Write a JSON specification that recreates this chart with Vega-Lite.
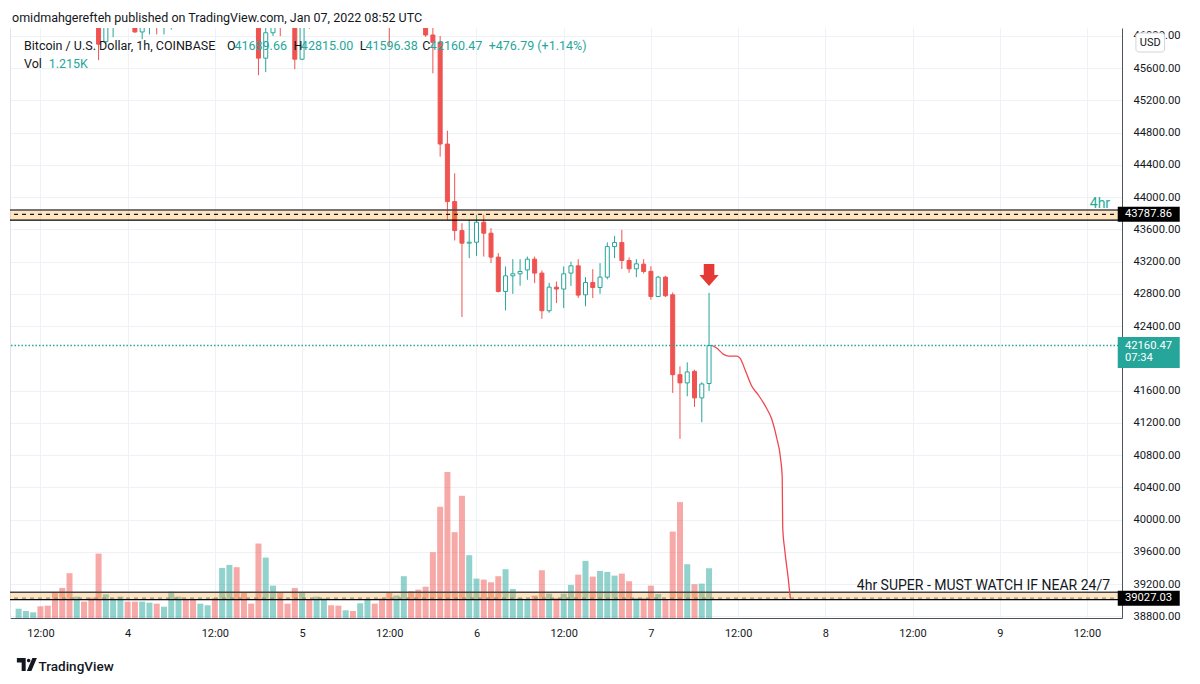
{
  "$schema": "https://vega.github.io/schema/vega-lite/v6.json",
  "width": 1112,
  "height": 590,
  "autosize": "none",
  "padding": {"left": 10, "top": 28, "right": 78, "bottom": 66},
  "background": "#ffffff",
  "config": {"font": "Roboto", "view": {"stroke": null}},
  "title": {
    "text": "omidmahgerefteh published on TradingView.com, Jan 07, 2022 08:52 UTC",
    "anchor": "start",
    "frame": "group",
    "offset": 4,
    "dx": 2,
    "fontSize": 12.5,
    "fontWeight": "normal",
    "color": "#131722"
  },
  "datasets": {
    "bars": [
      {"t": "2022-01-03T09:00:00Z", "o": 46650, "h": 46800, "l": 46550, "c": 46720, "v": 227},
      {"t": "2022-01-03T10:00:00Z", "o": 46720, "h": 46850, "l": 46650, "c": 46780, "v": 171},
      {"t": "2022-01-03T11:00:00Z", "o": 46780, "h": 46900, "l": 46700, "c": 46820, "v": 139},
      {"t": "2022-01-03T12:00:00Z", "o": 46820, "h": 46880, "l": 46600, "c": 46650, "v": 286},
      {"t": "2022-01-03T13:00:00Z", "o": 46650, "h": 46700, "l": 46450, "c": 46500, "v": 301},
      {"t": "2022-01-03T14:00:00Z", "o": 46500, "h": 46560, "l": 46200, "c": 46300, "v": 628},
      {"t": "2022-01-03T15:00:00Z", "o": 46300, "h": 46400, "l": 46150, "c": 46250, "v": 734},
      {"t": "2022-01-03T16:00:00Z", "o": 46250, "h": 46300, "l": 46120, "c": 46180, "v": 1093},
      {"t": "2022-01-03T17:00:00Z", "o": 46180, "h": 46400, "l": 46150, "c": 46350, "v": 521},
      {"t": "2022-01-03T18:00:00Z", "o": 46350, "h": 46420, "l": 46200, "c": 46250, "v": 399},
      {"t": "2022-01-03T19:00:00Z", "o": 46250, "h": 46300, "l": 46130, "c": 46200, "v": 496},
      {"t": "2022-01-03T20:00:00Z", "o": 46200, "h": 46250, "l": 45700, "c": 45898, "v": 1572},
      {"t": "2022-01-03T21:00:00Z", "o": 45930, "h": 46200, "l": 45900, "c": 46120, "v": 579},
      {"t": "2022-01-03T22:00:00Z", "o": 46120, "h": 46350, "l": 45985, "c": 46300, "v": 472},
      {"t": "2022-01-03T23:00:00Z", "o": 46300, "h": 46450, "l": 46150, "c": 46400, "v": 521},
      {"t": "2022-01-04T00:00:00Z", "o": 46400, "h": 46500, "l": 46150, "c": 46250, "v": 399},
      {"t": "2022-01-04T01:00:00Z", "o": 46250, "h": 46300, "l": 46040, "c": 46050, "v": 399},
      {"t": "2022-01-04T02:00:00Z", "o": 46050, "h": 46200, "l": 45960, "c": 46110, "v": 399},
      {"t": "2022-01-04T03:00:00Z", "o": 46110, "h": 46300, "l": 46020, "c": 46250, "v": 374},
      {"t": "2022-01-04T04:00:00Z", "o": 46250, "h": 46300, "l": 46020, "c": 46120, "v": 350},
      {"t": "2022-01-04T05:00:00Z", "o": 46120, "h": 46350, "l": 46020, "c": 46300, "v": 276},
      {"t": "2022-01-04T06:00:00Z", "o": 46300, "h": 46500, "l": 46080, "c": 46450, "v": 643},
      {"t": "2022-01-04T07:00:00Z", "o": 46450, "h": 46700, "l": 46400, "c": 46650, "v": 521},
      {"t": "2022-01-04T08:00:00Z", "o": 46650, "h": 46700, "l": 46450, "c": 46500, "v": 472},
      {"t": "2022-01-04T09:00:00Z", "o": 46500, "h": 46550, "l": 46300, "c": 46350, "v": 465},
      {"t": "2022-01-04T10:00:00Z", "o": 46350, "h": 46550, "l": 46300, "c": 46500, "v": 350},
      {"t": "2022-01-04T11:00:00Z", "o": 46500, "h": 46700, "l": 46450, "c": 46650, "v": 311},
      {"t": "2022-01-04T12:00:00Z", "o": 46650, "h": 46750, "l": 46450, "c": 46500, "v": 489},
      {"t": "2022-01-04T13:00:00Z", "o": 46500, "h": 47200, "l": 46450, "c": 47050, "v": 1223},
      {"t": "2022-01-04T14:00:00Z", "o": 47050, "h": 47500, "l": 46950, "c": 47350, "v": 1296},
      {"t": "2022-01-04T15:00:00Z", "o": 47350, "h": 47450, "l": 46800, "c": 46900, "v": 1240},
      {"t": "2022-01-04T16:00:00Z", "o": 46900, "h": 47000, "l": 46600, "c": 46700, "v": 628},
      {"t": "2022-01-04T17:00:00Z", "o": 46700, "h": 46750, "l": 46450, "c": 46550, "v": 350},
      {"t": "2022-01-04T18:00:00Z", "o": 46550, "h": 46600, "l": 45514, "c": 45725, "v": 1817},
      {"t": "2022-01-04T19:00:00Z", "o": 45725, "h": 46200, "l": 45551, "c": 46040, "v": 1474},
      {"t": "2022-01-04T20:00:00Z", "o": 46040, "h": 46400, "l": 46000, "c": 46300, "v": 790},
      {"t": "2022-01-04T21:00:00Z", "o": 46300, "h": 46350, "l": 45998, "c": 46150, "v": 628},
      {"t": "2022-01-04T22:00:00Z", "o": 46150, "h": 46200, "l": 46110, "c": 46130, "v": 350},
      {"t": "2022-01-04T23:00:00Z", "o": 46130, "h": 46200, "l": 45588, "c": 45712, "v": 734},
      {"t": "2022-01-05T00:00:00Z", "o": 45712, "h": 46300, "l": 45700, "c": 46200, "v": 628},
      {"t": "2022-01-05T01:00:00Z", "o": 46200, "h": 46300, "l": 46090, "c": 46150, "v": 440},
      {"t": "2022-01-05T02:00:00Z", "o": 46150, "h": 46350, "l": 46100, "c": 46300, "v": 521},
      {"t": "2022-01-05T03:00:00Z", "o": 46300, "h": 46500, "l": 46100, "c": 46450, "v": 482},
      {"t": "2022-01-05T04:00:00Z", "o": 46450, "h": 46500, "l": 46300, "c": 46350, "v": 311},
      {"t": "2022-01-05T05:00:00Z", "o": 46350, "h": 46400, "l": 46250, "c": 46300, "v": 301},
      {"t": "2022-01-05T06:00:00Z", "o": 46300, "h": 46450, "l": 46280, "c": 46400, "v": 188},
      {"t": "2022-01-05T07:00:00Z", "o": 46400, "h": 46450, "l": 46300, "c": 46350, "v": 171},
      {"t": "2022-01-05T08:00:00Z", "o": 46350, "h": 46550, "l": 46320, "c": 46500, "v": 359},
      {"t": "2022-01-05T09:00:00Z", "o": 46500, "h": 46700, "l": 46450, "c": 46650, "v": 457},
      {"t": "2022-01-05T10:00:00Z", "o": 46650, "h": 46700, "l": 46450, "c": 46500, "v": 350},
      {"t": "2022-01-05T11:00:00Z", "o": 46500, "h": 46550, "l": 46250, "c": 46300, "v": 482},
      {"t": "2022-01-05T12:00:00Z", "o": 46300, "h": 46350, "l": 45880, "c": 46150, "v": 619},
      {"t": "2022-01-05T13:00:00Z", "o": 46150, "h": 46450, "l": 46120, "c": 46400, "v": 550},
      {"t": "2022-01-05T14:00:00Z", "o": 46400, "h": 46900, "l": 46350, "c": 46800, "v": 1020},
      {"t": "2022-01-05T15:00:00Z", "o": 46800, "h": 46850, "l": 46500, "c": 46550, "v": 653},
      {"t": "2022-01-05T16:00:00Z", "o": 46550, "h": 46600, "l": 46250, "c": 46300, "v": 692},
      {"t": "2022-01-05T17:00:00Z", "o": 46300, "h": 46350, "l": 45990, "c": 46012, "v": 765},
      {"t": "2022-01-05T18:00:00Z", "o": 46012, "h": 46150, "l": 45537, "c": 45921, "v": 1606},
      {"t": "2022-01-05T19:00:00Z", "o": 45921, "h": 46000, "l": 44503, "c": 44660, "v": 2714},
      {"t": "2022-01-05T20:00:00Z", "o": 44660, "h": 44825, "l": 43719, "c": 43946, "v": 3562},
      {"t": "2022-01-05T21:00:00Z", "o": 43946, "h": 44297, "l": 43463, "c": 43586, "v": 2095},
      {"t": "2022-01-05T22:00:00Z", "o": 43586, "h": 43678, "l": 42514, "c": 43430, "v": 2983},
      {"t": "2022-01-05T23:00:00Z", "o": 43430, "h": 43719, "l": 43245, "c": 43442, "v": 1533},
      {"t": "2022-01-06T00:00:00Z", "o": 43442, "h": 43781, "l": 43273, "c": 43690, "v": 961},
      {"t": "2022-01-06T01:00:00Z", "o": 43690, "h": 43781, "l": 43264, "c": 43554, "v": 936},
      {"t": "2022-01-06T02:00:00Z", "o": 43554, "h": 43616, "l": 43183, "c": 43257, "v": 873},
      {"t": "2022-01-06T03:00:00Z", "o": 43257, "h": 43307, "l": 42819, "c": 42831, "v": 1020},
      {"t": "2022-01-06T04:00:00Z", "o": 42831, "h": 43141, "l": 42596, "c": 43025, "v": 1191},
      {"t": "2022-01-06T05:00:00Z", "o": 43025, "h": 43232, "l": 42802, "c": 43050, "v": 709},
      {"t": "2022-01-06T06:00:00Z", "o": 43050, "h": 43232, "l": 42902, "c": 43079, "v": 489},
      {"t": "2022-01-06T07:00:00Z", "o": 43098, "h": 43264, "l": 42976, "c": 43232, "v": 457},
      {"t": "2022-01-06T08:00:00Z", "o": 43232, "h": 43264, "l": 42935, "c": 43059, "v": 545},
      {"t": "2022-01-06T09:00:00Z", "o": 43059, "h": 43091, "l": 42493, "c": 42592, "v": 1166},
      {"t": "2022-01-06T10:00:00Z", "o": 42592, "h": 42939, "l": 42567, "c": 42885, "v": 594},
      {"t": "2022-01-06T11:00:00Z", "o": 42885, "h": 42955, "l": 42687, "c": 42861, "v": 489},
      {"t": "2022-01-06T12:00:00Z", "o": 42861, "h": 43141, "l": 42625, "c": 43050, "v": 594},
      {"t": "2022-01-06T13:00:00Z", "o": 43059, "h": 43202, "l": 42900, "c": 43149, "v": 807},
      {"t": "2022-01-06T14:00:00Z", "o": 43149, "h": 43232, "l": 42749, "c": 42786, "v": 1059},
      {"t": "2022-01-06T15:00:00Z", "o": 42790, "h": 43009, "l": 42648, "c": 42942, "v": 1394},
      {"t": "2022-01-06T16:00:00Z", "o": 42942, "h": 43108, "l": 42749, "c": 42880, "v": 1010},
      {"t": "2022-01-06T17:00:00Z", "o": 42880, "h": 43183, "l": 42802, "c": 43009, "v": 1149},
      {"t": "2022-01-06T18:00:00Z", "o": 43009, "h": 43440, "l": 42982, "c": 43388, "v": 1125},
      {"t": "2022-01-06T19:00:00Z", "o": 43388, "h": 43521, "l": 43245, "c": 43438, "v": 1034},
      {"t": "2022-01-06T20:00:00Z", "o": 43438, "h": 43595, "l": 43110, "c": 43215, "v": 1083},
      {"t": "2022-01-06T21:00:00Z", "o": 43215, "h": 43254, "l": 43063, "c": 43112, "v": 897},
      {"t": "2022-01-06T22:00:00Z", "o": 43112, "h": 43232, "l": 43009, "c": 43174, "v": 489},
      {"t": "2022-01-06T23:00:00Z", "o": 43170, "h": 43232, "l": 43054, "c": 43079, "v": 489},
      {"t": "2022-01-07T00:00:00Z", "o": 43081, "h": 43143, "l": 42728, "c": 42769, "v": 790},
      {"t": "2022-01-07T01:00:00Z", "o": 42769, "h": 43025, "l": 42762, "c": 43009, "v": 587},
      {"t": "2022-01-07T02:00:00Z", "o": 43009, "h": 43025, "l": 42762, "c": 42778, "v": 447},
      {"t": "2022-01-07T03:00:00Z", "o": 42790, "h": 42819, "l": 41573, "c": 41799, "v": 2110},
      {"t": "2022-01-07T04:00:00Z", "o": 41799, "h": 41902, "l": 41003, "c": 41697, "v": 2829},
      {"t": "2022-01-07T05:00:00Z", "o": 41697, "h": 41952, "l": 41531, "c": 41833, "v": 1313},
      {"t": "2022-01-07T06:00:00Z", "o": 41840, "h": 41860, "l": 41399, "c": 41511, "v": 824},
      {"t": "2022-01-07T07:00:00Z", "o": 41511, "h": 41704, "l": 41209, "c": 41683.68, "v": 839},
      {"t": "2022-01-07T08:00:00Z", "o": 41689.66, "h": 42815.00, "l": 41596.38, "c": 42160.47, "v": 1215}
    ],
    "zones": [
      {"label": "4hr", "level": 43787.86, "top": 43841, "bottom": 43717},
      {"label": "4hr SUPER - MUST WATCH IF NEAR 24/7", "level": 39027.03, "top": 39100, "bottom": 39008}
    ],
    "path": [
      {"t": "2022-01-07T08:25:00Z", "p": 42160.47},
      {"t": "2022-01-07T09:05:00Z", "p": 42126},
      {"t": "2022-01-07T10:00:00Z", "p": 42051},
      {"t": "2022-01-07T10:41:00Z", "p": 42030},
      {"t": "2022-01-07T11:49:00Z", "p": 42030},
      {"t": "2022-01-07T12:17:00Z", "p": 42002},
      {"t": "2022-01-07T12:58:00Z", "p": 41857},
      {"t": "2022-01-07T13:52:00Z", "p": 41658},
      {"t": "2022-01-07T14:47:00Z", "p": 41547},
      {"t": "2022-01-07T15:55:00Z", "p": 41382},
      {"t": "2022-01-07T16:35:00Z", "p": 41258},
      {"t": "2022-01-07T17:16:00Z", "p": 41030},
      {"t": "2022-01-07T17:52:00Z", "p": 40741},
      {"t": "2022-01-07T18:04:00Z", "p": 40533},
      {"t": "2022-01-07T18:08:00Z", "p": 39913},
      {"t": "2022-01-07T18:25:00Z", "p": 39624},
      {"t": "2022-01-07T18:52:00Z", "p": 39293},
      {"t": "2022-01-07T19:11:00Z", "p": 39027.03}
    ]
  },
  "layer": [
    {
      "data": {"name": "bars"},
      "mark": {"type": "bar", "width": 6, "opacity": 0.5},
      "encoding": {
        "x": {
          "field": "t",
          "type": "temporal",
          "scale": {
            "domain": [
              {"year": 2022, "month": 1, "date": 3, "hours": 8, "minutes": 30, "utc": true},
              {"year": 2022, "month": 1, "date": 9, "hours": 16, "minutes": 8, "utc": true}
            ]
          },
          "axis": {
            "values": [
              {"year": 2022, "month": 1, "date": 3, "hours": 12, "utc": true},
              {"year": 2022, "month": 1, "date": 4, "hours": 0, "utc": true},
              {"year": 2022, "month": 1, "date": 4, "hours": 12, "utc": true},
              {"year": 2022, "month": 1, "date": 5, "hours": 0, "utc": true},
              {"year": 2022, "month": 1, "date": 5, "hours": 12, "utc": true},
              {"year": 2022, "month": 1, "date": 6, "hours": 0, "utc": true},
              {"year": 2022, "month": 1, "date": 6, "hours": 12, "utc": true},
              {"year": 2022, "month": 1, "date": 7, "hours": 0, "utc": true},
              {"year": 2022, "month": 1, "date": 7, "hours": 12, "utc": true},
              {"year": 2022, "month": 1, "date": 8, "hours": 0, "utc": true},
              {"year": 2022, "month": 1, "date": 8, "hours": 12, "utc": true},
              {"year": 2022, "month": 1, "date": 9, "hours": 0, "utc": true},
              {"year": 2022, "month": 1, "date": 9, "hours": 12, "utc": true}
            ],
            "tickCount": 40,
            "labelExpr": "utchours(datum.value) == 0 ? utcFormat(datum.value, '%-d') : utcFormat(datum.value, '%H:%M')",
            "grid": true,
            "gridColor": "#eef1f6",
            "ticks": false,
            "domainColor": "#50535e",
            "labelColor": "#131722",
            "labelFontSize": 11,
            "labelPadding": 9,
            "labelFlush": false,
            "labelOverlap": false,
            "title": "TradingView",
            "titleX": 28,
            "titleY": 52,
            "titleAlign": "left",
            "titleAnchor": "start",
            "titleBaseline": "alphabetic",
            "titleFontSize": 13.5,
            "titleFontWeight": 500,
            "titleColor": "#131722"
          }
        },
        "y": {
          "field": "v",
          "type": "quantitative",
          "scale": {"domain": [0, 14400], "nice": false},
          "axis": {"orient": "left", "labels": false, "ticks": false, "grid": false, "domainColor": "#e0e3eb", "title": null}
        },
        "color": {"condition": {"test": "datum.c >= datum.o", "value": "#26a69a"}, "value": "#ef5350"}
      }
    },
    {
      "layer": [
        {
          "data": {"name": "bars"},
          "mark": {"type": "rule", "strokeWidth": 1, "clip": true},
          "encoding": {
            "x": {"field": "t", "type": "temporal"},
            "y": {
              "field": "l",
              "type": "quantitative",
              "scale": {"domain": [38781, 46099], "nice": false, "zero": false},
              "axis": {
                "orient": "right",
                "values": [38800, 39200, 39600, 40000, 40400, 40800, 41200, 41600, 42400, 42800, 43200, 43600, 44000, 44400, 44800, 45200, 45600, 46000],
                "tickCount": 40,
                "format": ".2f",
                "grid": true,
                "gridColor": "#eef1f6",
                "ticks": false,
                "domainColor": "#50535e",
                "labelColor": "#131722",
                "labelFontSize": 11.2,
                "labelPadding": 11,
                "labelFlush": false,
                "labelOverlap": false,
                "labelBound": false,
                "title": null
              }
            },
            "y2": {"field": "h"},
            "color": {"condition": {"test": "datum.c >= datum.o", "value": "#26a69a"}, "value": "#ef5350"}
          }
        },
        {
          "data": {"name": "bars"},
          "mark": {"type": "bar", "width": 4, "strokeWidth": 1, "clip": true},
          "encoding": {
            "x": {"field": "t", "type": "temporal"},
            "y": {"field": "o", "type": "quantitative"},
            "y2": {"field": "c"},
            "fill": {"condition": {"test": "datum.c >= datum.o", "value": "#ffffff"}, "value": "#ef5350"},
            "stroke": {"condition": {"test": "datum.c >= datum.o", "value": "#26a69a"}, "value": "#ef5350"}
          }
        },
        {
          "data": {"name": "zones"},
          "mark": {"type": "rect", "color": "#ff9800", "opacity": 0.25},
          "encoding": {
            "y": {"field": "top", "type": "quantitative"},
            "y2": {"field": "bottom"}
          }
        },
        {
          "data": {"name": "zones"},
          "mark": {"type": "rule", "color": "#434651", "strokeWidth": 1.5},
          "encoding": {"y": {"field": "top", "type": "quantitative"}}
        },
        {
          "data": {"name": "zones"},
          "mark": {"type": "rule", "color": "#000000", "strokeWidth": 1.2},
          "encoding": {"y": {"field": "bottom", "type": "quantitative"}}
        },
        {
          "data": {"name": "zones"},
          "mark": {"type": "rule", "strokeDash": [4, 4], "strokeWidth": 1.3},
          "encoding": {
            "y": {"field": "level", "type": "quantitative"},
            "color": {"condition": {"test": "datum.level > 40000", "value": "#131722"}, "value": "#8d8d8d"}
          }
        },
        {
          "data": {"name": "zones"},
          "mark": {"type": "text", "align": "right", "baseline": "alphabetic", "dy": -2, "fontSize": 14},
          "encoding": {
            "x": {"datum": {"year": 2022, "month": 1, "date": 9, "hours": 15, "minutes": 11, "utc": true}, "type": "temporal"},
            "y": {"field": "top", "type": "quantitative"},
            "text": {"field": "label"},
            "color": {"condition": {"test": "datum.level > 40000", "value": "#22ab94"}, "value": "#131722"}
          }
        },
        {
          "data": {"name": "path"},
          "mark": {"type": "line", "color": "#f0474f", "strokeWidth": 1.3, "interpolate": "monotone"},
          "encoding": {
            "x": {"field": "t", "type": "temporal"},
            "y": {"field": "p", "type": "quantitative"}
          }
        },
        {
          "data": {"name": "bars"},
          "transform": [{"filter": "+toDate(datum.t) == +toDate('2022-01-07T08:00:00Z')"}],
          "layer": [
            {
              "mark": {"type": "rule", "color": "#26a69a", "strokeDash": [1.5, 2], "strokeWidth": 1.4},
              "encoding": {"y": {"field": "c", "type": "quantitative"}}
            },
            {
              "mark": {"type": "tick", "orient": "horizontal", "size": 62, "thickness": 31, "color": "#26a69a", "opacity": 1},
              "encoding": {
                "x": {"datum": {"year": 2022, "month": 1, "date": 9, "hours": 20, "minutes": 30, "utc": true}, "type": "temporal"},
                "y": {"datum": 42074, "type": "quantitative"}
              }
            },
            {
              "mark": {"type": "text", "color": "#ffffff", "fontSize": 11.2, "align": "left", "baseline": "middle"},
              "encoding": {
                "x": {"datum": {"year": 2022, "month": 1, "date": 9, "hours": 17, "minutes": 14, "utc": true}, "type": "temporal"},
                "y": {"field": "c", "type": "quantitative"},
                "text": {"field": "c", "format": ".2f"}
              }
            },
            {
              "mark": {"type": "text", "color": "#ffffff", "fontSize": 11.2, "align": "left", "baseline": "middle", "text": "07:34"},
              "encoding": {
                "x": {"datum": {"year": 2022, "month": 1, "date": 9, "hours": 17, "minutes": 14, "utc": true}, "type": "temporal"},
                "y": {"datum": 42005, "type": "quantitative"}
              }
            },
            {
              "mark": {"type": "text", "color": "#26a69a", "fontSize": 12.5, "align": "left", "baseline": "alphabetic"},
              "encoding": {
                "x": {"datum": {"year": 2022, "month": 1, "date": 4, "hours": 14, "minutes": 42, "utc": true}, "type": "temporal"},
                "y": {"datum": 45826, "type": "quantitative"},
                "text": {"field": "o", "format": ".2f"}
              }
            },
            {
              "mark": {"type": "text", "color": "#26a69a", "fontSize": 12.5, "align": "left", "baseline": "alphabetic"},
              "encoding": {
                "x": {"datum": {"year": 2022, "month": 1, "date": 4, "hours": 23, "minutes": 50, "utc": true}, "type": "temporal"},
                "y": {"datum": 45826, "type": "quantitative"},
                "text": {"field": "h", "format": ".2f"}
              }
            },
            {
              "mark": {"type": "text", "color": "#26a69a", "fontSize": 12.5, "align": "left", "baseline": "alphabetic"},
              "encoding": {
                "x": {"datum": {"year": 2022, "month": 1, "date": 5, "hours": 8, "minutes": 43, "utc": true}, "type": "temporal"},
                "y": {"datum": 45826, "type": "quantitative"},
                "text": {"field": "l", "format": ".2f"}
              }
            },
            {
              "mark": {"type": "text", "color": "#26a69a", "fontSize": 12.5, "align": "left", "baseline": "alphabetic"},
              "encoding": {
                "x": {"datum": {"year": 2022, "month": 1, "date": 5, "hours": 17, "minutes": 35, "utc": true}, "type": "temporal"},
                "y": {"datum": 45826, "type": "quantitative"},
                "text": {"field": "c", "format": ".2f"}
              }
            }
          ]
        },
        {
          "data": {"name": "zones"},
          "layer": [
            {
              "mark": {"type": "tick", "orient": "horizontal", "size": 62, "thickness": 15, "color": "#000000", "opacity": 1},
              "encoding": {
                "x": {"datum": {"year": 2022, "month": 1, "date": 9, "hours": 20, "minutes": 30, "utc": true}, "type": "temporal"},
                "y": {"field": "level", "type": "quantitative"}
              }
            },
            {
              "mark": {"type": "text", "color": "#ffffff", "fontSize": 11.2, "align": "left", "baseline": "middle"},
              "encoding": {
                "x": {"datum": {"year": 2022, "month": 1, "date": 9, "hours": 17, "minutes": 14, "utc": true}, "type": "temporal"},
                "y": {"field": "level", "type": "quantitative"},
                "text": {"field": "level", "format": ".2f"}
              }
            }
          ]
        },
        {
          "data": {"values": [{}]},
          "layer": [
            {
              "mark": {"type": "point", "shape": "M-0.55,-1.14L0.55,-1.14L0.55,0L1,0L0,1.14L-1,0L-0.55,0Z", "filled": true, "color": "#e53935", "size": 372, "opacity": 1},
              "encoding": {
                "x": {"datum": {"year": 2022, "month": 1, "date": 7, "hours": 8, "utc": true}, "type": "temporal"},
                "y": {"datum": 43035, "type": "quantitative"}
              }
            },
            {
              "mark": {"type": "rect", "fill": "#ffffff", "stroke": "#d1d4dc", "strokeWidth": 1, "cornerRadius": 3},
              "encoding": {
                "x": {"datum": {"year": 2022, "month": 1, "date": 9, "hours": 18, "minutes": 44, "utc": true}, "type": "temporal"},
                "x2": {"datum": {"year": 2022, "month": 1, "date": 9, "hours": 22, "minutes": 41, "utc": true}},
                "y": {"datum": 46037, "type": "quantitative"},
                "y2": {"datum": 45801}
              }
            },
            {
              "mark": {"type": "text", "text": "USD", "fontSize": 11, "color": "#131722", "align": "center", "baseline": "middle"},
              "encoding": {
                "x": {"datum": {"year": 2022, "month": 1, "date": 9, "hours": 20, "minutes": 42, "utc": true}, "type": "temporal"},
                "y": {"datum": 45919, "type": "quantitative"}
              }
            },
            {
              "mark": {"type": "text", "text": "Bitcoin / U.S. Dollar, 1h, COINBASE", "fontSize": 12.5, "color": "#131722", "align": "left", "baseline": "alphabetic"},
              "encoding": {
                "x": {"datum": {"year": 2022, "month": 1, "date": 3, "hours": 9, "minutes": 44, "utc": true}, "type": "temporal"},
                "y": {"datum": 45826, "type": "quantitative"}
              }
            },
            {
              "mark": {"type": "text", "text": "O", "fontSize": 12.5, "color": "#131722", "align": "left", "baseline": "alphabetic"},
              "encoding": {
                "x": {"datum": {"year": 2022, "month": 1, "date": 4, "hours": 13, "minutes": 41, "utc": true}, "type": "temporal"},
                "y": {"datum": 45826, "type": "quantitative"}
              }
            },
            {
              "mark": {"type": "text", "text": "H", "fontSize": 12.5, "color": "#131722", "align": "left", "baseline": "alphabetic"},
              "encoding": {
                "x": {"datum": {"year": 2022, "month": 1, "date": 4, "hours": 22, "minutes": 49, "utc": true}, "type": "temporal"},
                "y": {"datum": 45826, "type": "quantitative"}
              }
            },
            {
              "mark": {"type": "text", "text": "L", "fontSize": 12.5, "color": "#131722", "align": "left", "baseline": "alphabetic"},
              "encoding": {
                "x": {"datum": {"year": 2022, "month": 1, "date": 5, "hours": 7, "minutes": 57, "utc": true}, "type": "temporal"},
                "y": {"datum": 45826, "type": "quantitative"}
              }
            },
            {
              "mark": {"type": "text", "text": "C", "fontSize": 12.5, "color": "#131722", "align": "left", "baseline": "alphabetic"},
              "encoding": {
                "x": {"datum": {"year": 2022, "month": 1, "date": 5, "hours": 16, "minutes": 32, "utc": true}, "type": "temporal"},
                "y": {"datum": 45826, "type": "quantitative"}
              }
            },
            {
              "mark": {"type": "text", "text": "+476.79 (+1.14%)", "fontSize": 12.5, "color": "#26a69a", "align": "left", "baseline": "alphabetic"},
              "encoding": {
                "x": {"datum": {"year": 2022, "month": 1, "date": 6, "hours": 1, "minutes": 41, "utc": true}, "type": "temporal"},
                "y": {"datum": 45826, "type": "quantitative"}
              }
            },
            {
              "mark": {"type": "text", "text": "Vol", "fontSize": 12.5, "color": "#131722", "align": "left", "baseline": "alphabetic"},
              "encoding": {
                "x": {"datum": {"year": 2022, "month": 1, "date": 3, "hours": 9, "minutes": 44, "utc": true}, "type": "temporal"},
                "y": {"datum": 45602, "type": "quantitative"}
              }
            },
            {
              "mark": {"type": "text", "text": "1.215K", "fontSize": 12.5, "color": "#26a69a", "align": "left", "baseline": "alphabetic"},
              "encoding": {
                "x": {"datum": {"year": 2022, "month": 1, "date": 3, "hours": 13, "minutes": 8, "utc": true}, "type": "temporal"},
                "y": {"datum": 45602, "type": "quantitative"}
              }
            },
            {
              "mark": {"type": "point", "shape": "M-1,-0.65L-0.12,-0.65L-0.12,0.65L-0.52,0.65L-0.52,-0.2L-1,-0.2Z M0,-0.4A0.18,0.18 0 1 0 0.36,-0.4A0.18,0.18 0 1 0 0,-0.4Z M0.55,-0.65L1,-0.65L0.45,0.65L0,0.65Z", "filled": true, "color": "#131722", "size": 400, "opacity": 1},
              "encoding": {
                "x": {"datum": {"year": 2022, "month": 1, "date": 3, "hours": 10, "minutes": 8, "utc": true}, "type": "temporal"},
                "y": {"datum": 38204, "type": "quantitative"}
              }
            }
          ]
        }
      ]
    }
  ],
  "resolve": {"scale": {"y": "independent"}}
}
